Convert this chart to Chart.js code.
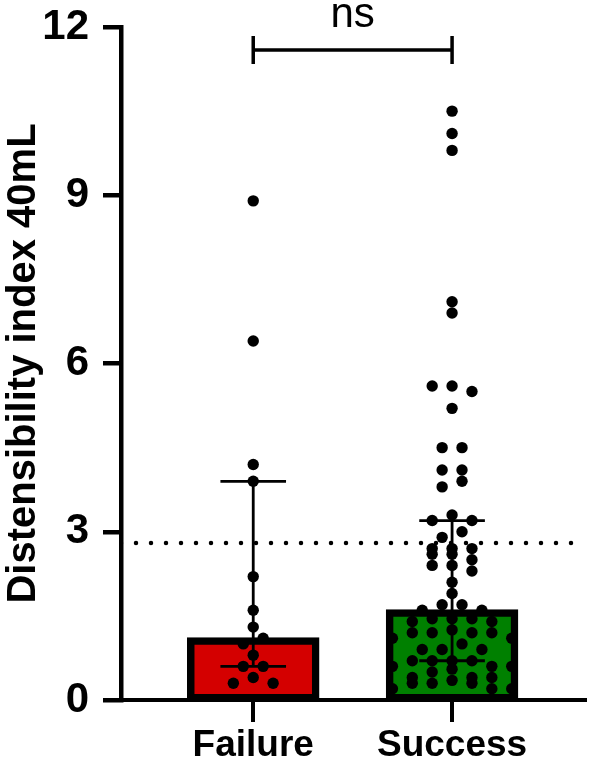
<!DOCTYPE html>
<html><head><meta charset="utf-8">
<script src="https://cdn.jsdelivr.net/npm/chart.js@4/dist/chart.umd.min.js"></script>
<style>html,body{margin:0;padding:0;background:#fff}#wrap{width:591px;height:762px}</style>
</head><body><div id="wrap"><canvas id="c" width="591" height="762"></canvas></div>
<script>
// ---- data ----
const categories = ['Failure', 'Success'];
const failureValues = [8.9, 6.4, 4.2, 3.9, 2.2, 1.6, 1.3, 1.1, 1.0, 0.8, 0.6, 0.6, 0.4, 0.3, 0.3];
const successValues = [10.5, 10.1, 9.8, 7.1, 6.9, 5.6, 5.6, 5.5, 5.2, 4.5, 4.5, 4.1, 4.1, 3.9, 3.8,
  3.3, 3.2, 3.2, 3.0, 2.9, 2.7, 2.7, 2.7, 2.6, 2.6, 2.5, 2.4, 2.4, 2.3, 2.1, 1.9,
  1.7, 1.7, 1.6, 1.6, 1.45, 1.45, 1.45, 1.4, 1.4, 1.25, 1.2, 1.2, 1.2, 1.2, 1.1, 1.1, 1.0,
  0.9, 0.9, 0.9, 0.7, 0.7, 0.7, 0.7, 0.6, 0.6, 0.6, 0.55, 0.5, 0.4, 0.4, 0.4, 0.35,
  0.3, 0.3, 0.3, 0.2, 0.2, 0.2];
const medians = [1.05, 1.55];
const q1 = [0.6, 0.7];
const q3 = [3.9, 3.2];
const referenceLine = 2.8;
const yTicks = [0, 3, 6, 9, 12];
const significanceLabel = 'ns';
const barColors = ['#d40000', '#008000'];

// ---- layout constants ----
const X_MIN = -0.665, X_MAX = 1.67;
const ROW_H = 0.19;      // value units per swarm row
const COL_W = 0.1;       // x units between swarm columns
const CAP_HALF = 0.165;  // error-bar cap half width (x units)
const BRACKET_Y = 11.59, BRACKET_TICK = 0.25;

function swarm(values, gi) {
  const s = values.slice().sort((a, b) => a - b);
  const pts = [];
  let i = 0;
  while (i < s.length) {
    const start = s[i];
    const row = [];
    while (i < s.length && s[i] < start + ROW_H - 1e-9) { row.push(s[i]); i++; }
    row.sort((a, b) => b - a);
    const n = row.length, slots = [];
    if (n % 2) { slots.push(0); for (let k = 1; slots.length < n; k++) { slots.push(-k); if (slots.length < n) slots.push(k); } }
    else { for (let k = 0; slots.length < n; k++) { slots.push(k + 0.5); slots.push(-(k + 0.5)); } }
    row.forEach((v, j) => pts.push({ x: gi + slots[j] * COL_W, y: v }));
  }
  return pts;
}
const dots = swarm(failureValues, 0).concat(swarm(successValues, 1));

const annotations = {
  id: 'annotations',
  afterDatasetsDraw(chart) {
    const { ctx, scales: { x, y } } = chart;
    ctx.save();
    ctx.strokeStyle = '#000';
    ctx.lineCap = 'butt';
    ctx.lineWidth = 2.8;
    categories.forEach((c, i) => {
      const cx = x.getPixelForValue(i);
      const hw = x.getPixelForValue(i + CAP_HALF) - cx;
      const ylo = y.getPixelForValue(q1[i]), yhi = y.getPixelForValue(q3[i]);
      ctx.beginPath();
      ctx.moveTo(cx, ylo); ctx.lineTo(cx, yhi);
      ctx.moveTo(cx - hw, ylo); ctx.lineTo(cx + hw, ylo);
      ctx.moveTo(cx - hw, yhi); ctx.lineTo(cx + hw, yhi);
      ctx.stroke();
    });
    // significance bracket
    const x0 = x.getPixelForValue(0), x1 = x.getPixelForValue(1);
    const by = y.getPixelForValue(BRACKET_Y);
    const t1 = y.getPixelForValue(BRACKET_Y + BRACKET_TICK), t2 = y.getPixelForValue(BRACKET_Y - BRACKET_TICK);
    ctx.lineWidth = 3.5;
    ctx.beginPath();
    ctx.moveTo(x0, by); ctx.lineTo(x1, by);
    ctx.moveTo(x0, t1); ctx.lineTo(x0, t2);
    ctx.moveTo(x1, t1); ctx.lineTo(x1, t2);
    ctx.stroke();
    ctx.fillStyle = '#000';
    ctx.font = '42px "Liberation Sans", Arial, sans-serif';
    ctx.textAlign = 'center';
    ctx.textBaseline = 'alphabetic';
    ctx.fillText(significanceLabel, (x0 + x1) / 2, y.getPixelForValue(12));
    ctx.restore();
  }
};

const FONT = '"Liberation Sans", Arial, sans-serif';
new Chart(document.getElementById('c').getContext('2d'), {
  data: {
    datasets: [
      { type: 'bar', data: medians.map((m, i) => ({ x: i, y: m })), backgroundColor: barColors,
        borderColor: '#000', borderWidth: 7.5, borderSkipped: false, barThickness: 125, inflateAmount: 3.75, order: 3 },
      { type: 'line', data: [{ x: X_MIN, y: referenceLine }, { x: X_MAX, y: referenceLine }],
        borderColor: '#000', borderWidth: 4.5, borderDash: [0, 15], borderCapStyle: 'round', pointRadius: 0, order: 2 },
      { type: 'scatter', data: dots, pointRadius: 5.7, pointBackgroundColor: '#000', pointBorderWidth: 0, order: 1 }
    ]
  },
  options: {
    responsive: false, animation: false,
    layout: { padding: { top: 27, right: 3, left: 0, bottom: 0 } },
    plugins: { legend: { display: false }, tooltip: { enabled: false } },
    scales: {
      x: {
        type: 'linear', min: X_MIN, max: X_MAX, offset: false,
        afterBuildTicks: s => { s.ticks = categories.map((c, i) => ({ value: i })); },
        ticks: { callback: v => categories[v] ?? '', font: { family: FONT, size: 37, weight: 'bold' }, color: '#000', padding: 2, maxRotation: 0, autoSkip: false },
        grid: { display: true, offset: false, drawOnChartArea: false, drawTicks: true, tickLength: 22, color: '#000', lineWidth: 4 },
        border: { display: true, color: '#000', width: 4 },
        afterFit: s => { s.height = 62; s.paddingLeft = 0; s.paddingRight = 0; }
      },
      y: {
        min: 0, max: 12,
        afterBuildTicks: s => { s.ticks = yTicks.map(v => ({ value: v })); },
        ticks: { font: { family: FONT, size: 42, weight: 'bold' }, color: '#000', padding: 14 },
        grid: { display: true, drawOnChartArea: false, drawTicks: true, tickLength: 18, color: '#000', lineWidth: 4.5 },
        border: { display: true, color: '#000', width: 4.5 },
        title: { display: true, text: 'Distensibility index 40mL', font: { family: FONT, size: 40, weight: 'bold' }, color: '#000', padding: { top: 0, bottom: 0 } },
        afterFit: s => { s.width = 121; s.paddingTop = 0; s.paddingBottom = 0; }
      }
    }
  },
  plugins: [annotations]
});
</script>
</body></html>
